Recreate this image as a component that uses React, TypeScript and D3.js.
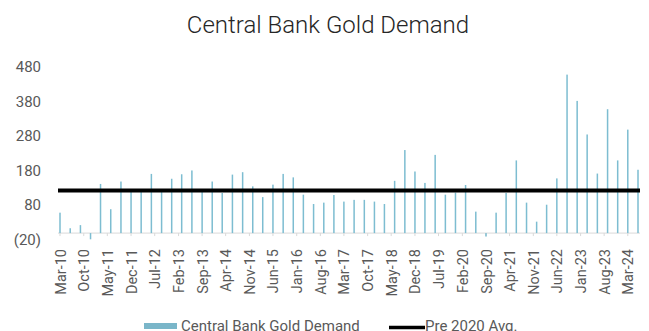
import React from "react";
import * as d3 from "d3";

const startYear = 2010;
const startMonth = 2; // March (0-based)
const demand: number[] = [
  59, 14, 23, -18, 142, 69, 149, 120, 120, 171, 120, 157, 170, 181, 120, 149,
  116, 169, 176, 135, 104, 140, 171, 161, 111, 84, 88, 110, 91, 96, 96, 91,
  84, 151, 240, 178,
  145, 226, 111, 117, 139, 62, -10, 59, 116, 210, 88, 33, 82, 158, 458, 382,
  285, 172, 358, 210, 299, 183,
];
const pre2020Avg = 123;
const yTicks: number[] = [-20, 80, 180, 280, 380, 480];
const title = "Central Bank Gold Demand";
const seriesName = "Central Bank Gold Demand";
const avgName = "Pre 2020 Avg.";
const monthNames = ["Jan","Feb","Mar","Apr","May","Jun","Jul","Aug","Sep","Oct","Nov","Dec"];

const dates = demand.map((_, i) => new Date(startYear, startMonth + i * 3, 1));
const tickDates: Date[] = [];
for (let m = 0; m <= 168; m += 7) tickDates.push(new Date(startYear, startMonth + m, 1));
const fmt = (d: Date) => `${monthNames[d.getMonth()]}-${String(d.getFullYear() % 100).padStart(2, "0")}`;
const yFmt = (v: number) => (v < 0 ? `(${Math.abs(v)})` : `${v}`);

export default function App() {
  const W = 649, H = 331;
  const x = d3.scaleTime().domain([dates[0], dates[dates.length - 1]]).range([60, 638]);
  const y = d3.scaleLinear().domain([-20, 480]).range([240, 67]);
  const font = "Roboto, 'Noto Sans', sans-serif";
  const barColor = "#7dbdd1";
  return (
    <svg width={W} height={H} style={{ position: "absolute", left: 0, top: 0, background: "#fff" }}>
      <text x={328} y={33} textAnchor="middle" fontFamily={font} fontWeight={300} fontSize={24} fill="#262626">{title}</text>
      {yTicks.map((t) => (
        <text key={t} x={41} y={y(t)} textAnchor="end" dominantBaseline="central" fontFamily={font} fontSize={15} fill="#595959">{yFmt(t)}</text>
      ))}
      <line x1={58} x2={640} y1={y(0)} y2={y(0)} stroke="#d9d9d9" strokeWidth={1} />
      {tickDates.map((d, i) => (
        <g key={i}>
          <line x1={x(d)} x2={x(d)} y1={y(0)} y2={y(0) + 3} stroke="#d9d9d9" strokeWidth={1} />
          <text transform={`translate(${x(d) + 1},${249}) rotate(-90)`} textAnchor="end" dominantBaseline="central" fontFamily={font} fontSize={14.5} fill="#595959">{fmt(d)}</text>
        </g>
      ))}
      {demand.map((v, i) => (
        <rect key={i} x={x(dates[i]) - 0.75} width={1.5} y={Math.min(y(v), y(0))} height={Math.abs(y(v) - y(0))} fill={barColor} />
      ))}
      <line x1={58} x2={640} y1={y(pre2020Avg)} y2={y(pre2020Avg)} stroke="#000" strokeWidth={4} />
      <rect x={144} y={323} width={33} height={6} fill="#7ab6c9" />
      <text x={181} y={330.5} fontFamily={font} fontSize={15} fill="#595959">{seriesName}</text>
      <line x1={389} x2={425} y1={327.5} y2={327.5} stroke="#000" strokeWidth={3.5} />
      <text x={425} y={330.5} fontFamily={font} fontSize={15} fill="#595959">{avgName}</text>
    </svg>
  );
}
